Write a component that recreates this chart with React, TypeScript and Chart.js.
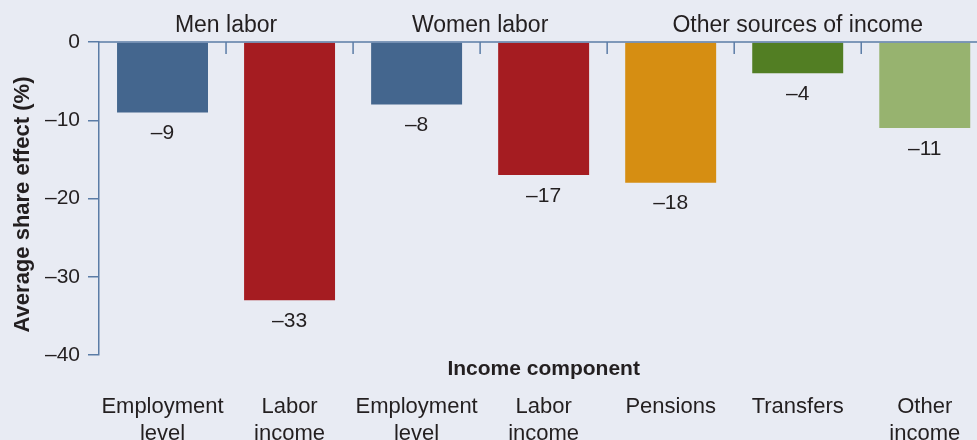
import React, { useEffect, useRef } from "react";
import { Chart, registerables } from "chart.js";

Chart.register(...registerables);

const categories: string[][] = [
  ["Employment", "level"],
  ["Labor", "income"],
  ["Employment", "level"],
  ["Labor", "income"],
  ["Pensions"],
  ["Transfers"],
  ["Other", "income"],
];
const values: number[] = [-9, -33, -8, -17, -18, -4, -11];
const barColors: string[] = ["#44668e", "#a51c21", "#44668e", "#a51c21", "#d68e12", "#527e23", "#97b36f"];
const yTicks: number[] = [0, -10, -20, -30, -40];
const groupLabels: string[] = ["Men labor", "Women labor", "Other sources of income"];
// group label positions in category units (center)
const groupCenters: number[] = [0.5, 2.5, 5];
const xTitle = "Income component";
const yTitle = "Average share effect (%)";

const FONT = '"Liberation Sans", Arial, Helvetica, sans-serif';
const TEXT = "#231f20";
const AXIS = "#5b7ca6";
const BG = "#e8ebf3";

const fmt = (v: number) => (v < 0 ? "\u2013" + Math.abs(v) : String(v));

export default function App() {
  const ref = useRef<HTMLCanvasElement | null>(null);
  useEffect(() => {
    if (!ref.current) return;
    const decor = {
      id: "decor",
      afterDatasetsDraw(chart: any) {
        const ctx = chart.ctx;
        const x = chart.scales.x;
        const y = chart.scales.y;
        const area = chart.chartArea;
        const y0 = y.getPixelForValue(0);
        ctx.save();
        // top axis line
        ctx.strokeStyle = AXIS;
        ctx.lineWidth = 1.5;
        ctx.beginPath();
        ctx.moveTo(area.left, y0);
        ctx.lineTo(chart.width, y0);
        ctx.stroke();
        // inward ticks at category boundaries
        for (let i = 0; i < categories.length - 1; i++) {
          const bx = (x.getPixelForValue(i) + x.getPixelForValue(i + 1)) / 2;
          ctx.beginPath();
          ctx.moveTo(bx, y0);
          ctx.lineTo(bx, y0 + 12);
          ctx.stroke();
        }
        // data labels
        ctx.fillStyle = TEXT;
        ctx.font = `21px ${FONT}`;
        ctx.textAlign = "center";
        ctx.textBaseline = "alphabetic";
        const meta = chart.getDatasetMeta(0);
        meta.data.forEach((bar: any, i: number) => {
          ctx.fillText(fmt(values[i]), bar.x, bar.y + 26.5);
        });
        // group labels
        ctx.font = `23px ${FONT}`;
        groupLabels.forEach((g, i) => {
          const c = groupCenters[i];
          const lo = Math.floor(c);
          const px = c === lo ? x.getPixelForValue(c) : (x.getPixelForValue(lo) + x.getPixelForValue(lo + 1)) / 2;
          ctx.fillText(g, px, y0 - 10);
        });
        // x title
        ctx.font = `bold 21px ${FONT}`;
        ctx.fillText(xTitle, (area.left + area.right) / 2, area.bottom + 20);
        // y title
        ctx.translate(29, (area.top + area.bottom) / 2 + 6);
        ctx.rotate(-Math.PI / 2);
        ctx.font = `bold 22px ${FONT}`;
        ctx.fillText(yTitle, 0, 0);
        ctx.restore();
      },
    };
    const chart = new Chart(ref.current, {
      type: "bar",
      data: {
        labels: categories,
        datasets: [
          {
            data: values,
            backgroundColor: barColors,
            borderWidth: 0,
            barPercentage: 0.716,
            categoryPercentage: 1,
          },
        ],
      },
      options: {
        responsive: false,
        animation: false,
        devicePixelRatio: 1,
        layout: { padding: { left: 0, right: 11, top: 42, bottom: 0 } },
        plugins: { legend: { display: false }, tooltip: { enabled: false } },
        scales: {
          x: {
            type: "category",
            offset: true,
            grid: { display: false, drawTicks: false },
            border: { display: false },
            ticks: {
              color: TEXT,
              font: { family: FONT, size: 22, lineHeight: 1.2 },
              padding: 39,
              maxRotation: 0,
              autoSkip: false,
            },
            afterFit: (s: any) => {
              s.height = 85;
            },
          },
          y: {
            min: -40,
            max: 0,
            afterBuildTicks: (s: any) => {
              s.ticks = yTicks.map((v) => ({ value: v }));
            },
            grid: {
              drawOnChartArea: false,
              drawTicks: true,
              tickLength: 11,
              color: AXIS,
              lineWidth: 1.5,
            },
            border: { display: true, color: AXIS, width: 1.5 },
            ticks: {
              color: TEXT,
              font: { family: FONT, size: 21 },
              padding: 8,
              callback: (v: any) => fmt(Number(v)),
            },
            afterFit: (s: any) => {
              s.width = 99;
            },
          },
        },
      },
      plugins: [decor],
    });
    return () => chart.destroy();
  }, []);
  return (
    <div
      style={{
        position: "fixed",
        left: 0,
        top: 0,
        width: 977,
        height: 440,
        overflow: "hidden",
        background: BG,
      }}
    >
      <canvas ref={ref} width={1000} height={440} style={{ display: "block" }} />
    </div>
  );
}
